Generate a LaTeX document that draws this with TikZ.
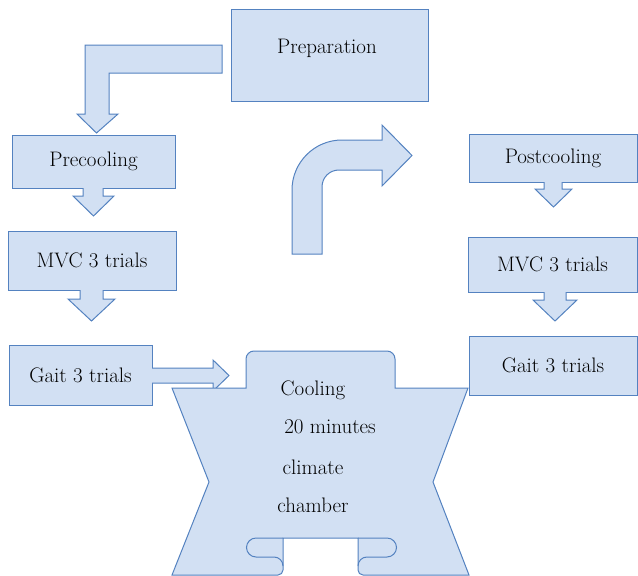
\documentclass[tikz,border=0pt]{standalone}
\usepackage{tikz}

\definecolor{boxfill}{RGB}{210,224,243}
\definecolor{boxline}{RGB}{84,130,192}
\tikzset{
	box/.style={draw=boxline,fill=boxfill,line width=1pt,inner sep=0pt},
	blk/.style={draw=boxline,fill=boxfill,line width=1pt,line join=miter},
	txt/.style={font=\fontsize{21}{24}\selectfont,inner sep=0pt}
}

\begin{document}
\begin{tikzpicture}[x=1pt,y=-1pt]
		\useasboundingbox (0,0) rectangle (638,576);
		% boxes
		\node[box,minimum width=197pt,minimum height=92pt] (prep) at (329.5,55) {};
		\node[txt] (preptext) at (327,48) {Preparation};
		\node[box,txt,minimum width=163pt,minimum height=53pt] (precool) at (93.5,161.5) {Precooling};
		\node[box,txt,minimum width=168pt,minimum height=59pt] (mvcL) at (92,260.5) {MVC 3 trials};
		\node[box,txt,minimum width=143pt,minimum height=60pt] (gaitL) at (80.5,375) {Gait 3 trials};
		\node[box,txt,minimum width=168pt,minimum height=48pt] (postcool) at (553,158) {Postcooling};
		\node[box,txt,minimum width=169pt,minimum height=55pt] (mvcR) at (552.5,264.5) {MVC 3 trials};
		\node[box,txt,minimum width=168pt,minimum height=59pt] (gaitR) at (553,365.5) {Gait 3 trials};
		% block arrows
		\draw[blk] (222,45) -- (85,45) -- (85,114) -- (77,114) -- (96.5,133) -- (118,114) -- (109,114) -- (109,73) -- (222,73) -- cycle;
		\draw[blk] (83,188) -- (83,196) -- (73,196) -- (93.5,216) -- (114,196) -- (103,196) -- (103,188);
		\draw[blk] (80,290) -- (80,299) -- (68,299) -- (91.5,321) -- (115,299) -- (103,299) -- (103,290);
		\draw[blk] (544,182) -- (544,189) -- (535,189) -- (553.5,207) -- (572,189) -- (562,189) -- (562,182);
		\draw[blk] (544,292) -- (544,300) -- (533,300) -- (555,321) -- (577,300) -- (566,300) -- (566,292);
		\draw[blk] (152,368) -- (213,368) -- (213,360) -- (229,375.5) -- (213,391) -- (213,383) -- (152,383);
		\draw[blk] (292,254) -- (292,190) .. controls (292,162.4) and (314.4,140) .. (342,140) -- (382,140) -- (382,125) -- (412,155.5) -- (382,186) -- (382,170) -- (339,170) .. controls (329.6,170) and (322,177.4) .. (322,187) -- (322,254) -- cycle;
		% cooling chamber
		\draw[blk] (172,388) -- (246,388) [rounded corners=8pt] -- (246,351) -- (395,351) [sharp corners] -- (395,388) -- (468,388) -- (433,482) -- (469,575) [rounded corners=5pt] -- (358,575) [sharp corners] -- (358,538) -- (283,538) [rounded corners=5pt] -- (283,575) [sharp corners] -- (172,575) -- (209,482) -- cycle;
		\draw[boxline,line width=1pt] (283,538) -- (256,538) .. controls (250.8,538) and (246.5,542.3) .. (246.5,547.5) .. controls (246.5,552.7) and (250.8,557) .. (256,557) -- (274,557) .. controls (279,557) and (283,561) .. (283,566);
		\draw[boxline,line width=1pt] (358,538) -- (387,538) .. controls (392.2,538) and (396.5,542.3) .. (396.5,547.5) .. controls (396.5,552.7) and (392.2,557) .. (387,557) -- (367,557) .. controls (362,557) and (358,561) .. (358,566);
		\node[txt] (cool1) at (313,390) {Cooling};
		\node[txt] (cool2) at (330,427) {20 minutes};
		\node[txt] (cool3) at (313,467) {climate};
		\node[txt] (cool4) at (313,505) {chamber};
	\end{tikzpicture}
\end{document}
